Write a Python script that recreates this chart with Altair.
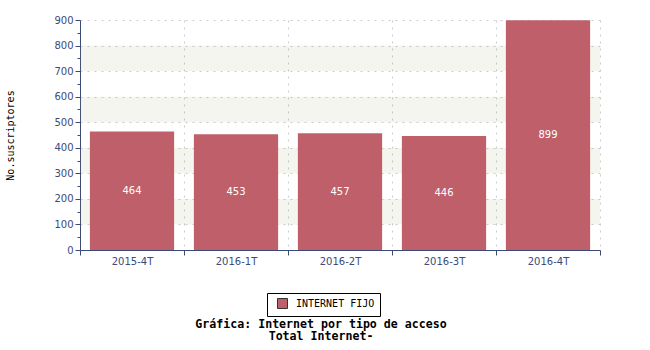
import altair as alt
import pandas as pd

periodos = ["2015-4T", "2016-1T", "2016-2T", "2016-3T", "2016-4T"]
valores = [464, 453, 457, 446, 899]
serie = "INTERNET FIJO"
band_lo = [100, 300, 500, 700]
band_hi = [200, 400, 600, 800]
y_ticks = list(range(0, 901, 50))

df = pd.DataFrame({"periodo": periodos, "valor": valores, "serie": [serie] * len(periodos)})
bands = pd.DataFrame({"lo": band_lo, "hi": band_hi})

BAR = "#bf5f69"
AXIS = "#3c4a78"
GRID = "#cccccc"
W, H = 520, 230

yscale = alt.Scale(domain=[0, 900], nice=False)
yaxis = alt.Axis(values=y_ticks, grid=True, gridDash=[2, 5],
                 gridColor={"condition": {"test": "datum.value % 100 != 0", "value": "transparent"}, "value": GRID},
                 tickSize={"condition": {"test": "datum.value % 100 != 0", "value": 3}, "value": 5},
                 labelExpr="datum.value % 100 ? '' : datum.label",
                 labelOverlap=False,
                 titleFont="DejaVu Sans Mono", titleFontWeight="normal", titleFontSize=10,
                 titleColor="#000000", titlePadding=38, labelPadding=2)
YTITLE = "No.suscriptores"

xscale = alt.Scale(paddingInner=0, paddingOuter=0)
xaxis = alt.Axis(labelAngle=0, tickBand="extent", grid=True, gridDash=[2, 5],
                 gridColor=GRID, tickSize=5, labelPadding=1)

# translucent stripes so the grid below them stays visible
band_layer = alt.Chart(bands).mark_rect(color="#9b9b69", opacity=0.1).encode(
    x=alt.value(0), x2=alt.value(W),
    y=alt.Y("lo:Q", scale=yscale, axis=yaxis, title=YTITLE), y2="hi:Q",
)

bars = alt.Chart(df).mark_bar(width=alt.RelativeBandSize(0.81)).encode(
    x=alt.X("periodo:N", sort=periodos, title=None, scale=xscale, axis=xaxis),
    y=alt.Y("valor:Q", scale=yscale, axis=yaxis, title=YTITLE),
    color=alt.Color("serie:N", scale=alt.Scale(range=[BAR]), title=None,
                    legend=alt.Legend(orient="none", legendX=187, legendY=273,
                                      direction="horizontal", symbolType="square",
                                      symbolSize=100, symbolStrokeColor="#333333",
                                      symbolStrokeWidth=1, labelFont="DejaVu Sans Mono",
                                      labelFontSize=10, labelColor="#000000",
                                      labelExpr="datum.label + '\u00a0'",
                                      labelOffset=8, symbolOffset=5, padding=5,
                                      strokeColor="#000000", fillColor="#ffffff",
                                      cornerRadius=0)),
)

labels = alt.Chart(df).transform_calculate(mid="datum.valor / 2").mark_text(
    color="white", font="DejaVu Sans", fontSize=10
).encode(
    x=alt.X("periodo:N", sort=periodos, title=None, scale=xscale, axis=xaxis),
    y=alt.Y("mid:Q", scale=yscale, axis=yaxis, title=YTITLE),
    text="valor:Q",
)

chart = alt.layer(band_layer, bars, labels).properties(
    width=W, height=H,
    padding={"left": 80, "top": 20, "right": 50, "bottom": 100},
    autosize=alt.AutoSizeParams(type="none"),
    title=alt.TitleParams(
        text="Gráfica: Internet por tipo de acceso",
        subtitle="Total Internet-",
        orient="bottom", anchor="middle", frame="group",
        font="DejaVu Sans Mono", fontWeight="bold", fontSize=11.6, color="#000000",
        subtitleFont="DejaVu Sans Mono", subtitleFontWeight="bold", subtitleFontSize=11.6,
        subtitleColor="#000000", subtitlePadding=1, offset=2, dx=-19,
    ),
).configure_view(stroke=None).configure_axis(
    labelFont="DejaVu Sans", labelFontSize=10, labelColor=AXIS,
    domainColor=AXIS, tickColor=AXIS, domainWidth=1,
)

chart.save("out.html", embed_options={"renderer": "svg", "actions": False})
